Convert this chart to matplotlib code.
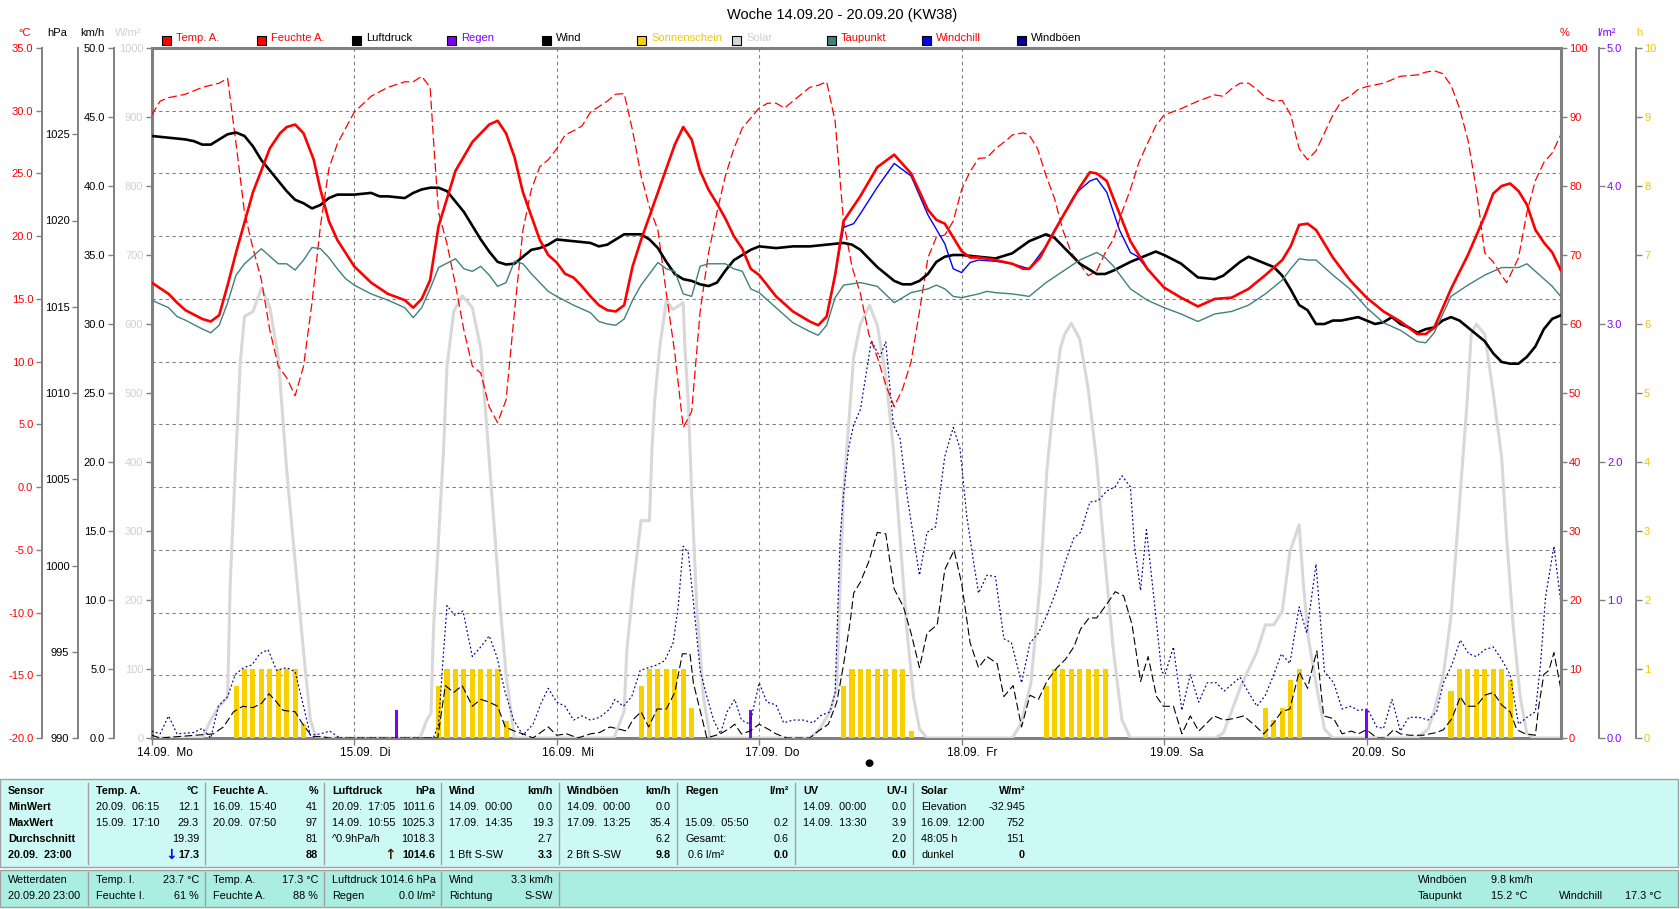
import matplotlib
matplotlib.use('Agg')
import matplotlib.pyplot as plt
from matplotlib.patches import Rectangle

plt.rcParams['font.family'] = ['Liberation Sans', 'DejaVu Sans']

# Values, hour 0 = 14.09. 00:00, last point 20.09. 23:00

temp_h = [0, 2, 3, 4, 6, 7, 8, 9, 10, 12, 14, 15.2, 16, 17, 18, 19.2, 20, 21, 22, 24, 26, 28, 30, 31, 32, 33,
          34, 36, 38, 40, 41, 42, 43, 44, 45, 46, 47, 48, 49, 50, 51, 52, 53, 54, 55, 56, 57, 58, 60, 62, 63,
          64, 65, 66, 67, 68, 69, 70, 71, 72, 74, 76, 78, 79, 80, 81, 82, 84, 86, 88, 90, 92, 93, 94, 96, 97,
          98, 100, 102, 103.3, 104, 105.3, 106, 108, 110, 111.2, 112, 113.2, 114, 116, 118, 120, 122, 124, 126,
          128, 130, 132, 134, 135, 136, 137, 138, 140, 142, 144, 146, 148, 150, 151, 152, 154, 156, 158, 159,
          160, 161, 162, 163, 164, 165, 166, 167]
temp_v = [16.3, 15.4, 14.7, 14.1, 13.4, 13.2, 13.7, 16.1, 18.7, 23.5, 27.0, 28.2, 28.7, 28.9, 28.2, 26.1, 23.7,
          21.2, 19.7, 17.6, 16.3, 15.4, 14.9, 14.3, 15.0, 16.5, 20.8, 25.2, 27.5, 28.9, 29.2, 28.2, 26.3, 23.5,
          21.6, 19.7, 18.5, 17.9, 17.0, 16.7, 16.0, 15.2, 14.5, 14.1, 14.0, 14.5, 17.6, 19.7, 23.5, 27.3, 28.7,
          27.7, 25.2, 23.7, 22.6, 21.4, 20.0, 19.0, 17.4, 16.9, 15.2, 14.0, 13.2, 12.9, 13.6, 16.9, 21.2, 23.2,
          25.5, 26.5, 25.0, 22.1, 21.3, 21.0, 18.8, 18.3, 18.3, 18.1, 17.8, 17.4, 17.4, 18.3, 19.2, 21.6, 23.9,
          25.1, 25.0, 24.4, 23.0, 19.6, 17.4, 15.9, 15.1, 14.4, 15.0, 15.1, 15.8, 16.9, 18.1, 19.2, 20.9, 21.0,
          20.5, 18.3, 16.5, 15.1, 14.0, 13.2, 12.2, 12.2, 12.7, 15.8, 18.5, 21.6, 23.4, 24.0, 24.2, 23.6, 22.5,
          20.5, 19.5, 18.7, 17.3]

chill_h = [80, 81, 82, 83.2, 84, 86, 88, 90, 92, 94, 95, 96, 97, 98, 100, 102, 104, 106, 107, 108, 109.3, 110,
           111.2, 112, 113.2, 114.7, 116, 116.8, 118]
chill_v = [13.6, 16.9, 20.7, 21.0, 21.8, 23.9, 25.8, 24.8, 21.7, 19.4, 17.4, 17.1, 17.9, 18.1, 18.0, 17.8, 17.4,
           19.2, 20.5, 21.6, 23.2, 23.7, 24.4, 24.6, 23.5, 20.5, 18.7, 18.4, 17.4]

dew_h = [0, 2, 3, 4, 6, 7, 8, 9, 10, 11, 12, 13, 14, 15, 16, 17, 18, 19, 20, 21, 22, 23, 24, 26, 28, 30, 31, 32,
         33, 34, 36, 37, 38, 39, 40, 41, 42, 43, 44, 45, 46, 47, 48, 50, 52, 53, 54, 55, 56, 57, 58, 60, 61, 62,
         63, 64, 65, 66, 68, 69, 70, 71, 72, 74, 76, 78, 79, 80, 81, 82, 84, 86, 88, 90, 92, 93, 94, 95, 96, 98,
         99, 100, 102, 104, 106, 108, 110, 112, 113, 114, 116, 118, 120, 122, 124, 126, 128, 130, 132, 134, 135,
         136, 137, 138, 140, 142, 144, 146, 148, 150, 151, 152, 154, 156, 158, 160, 162, 163, 164, 166, 167]
dew_v = [14.9, 14.3, 13.6, 13.3, 12.6, 12.3, 12.9, 14.7, 16.9, 17.8, 18.4, 19.0, 18.4, 17.8, 17.8, 17.3, 18.1,
         19.1, 19.0, 18.3, 17.4, 16.6, 16.1, 15.4, 14.9, 14.3, 13.5, 14.3, 15.8, 17.5, 18.2, 17.4, 17.2, 17.6,
         16.9, 16.0, 16.3, 18.0, 17.8, 17.0, 16.3, 15.6, 15.2, 14.5, 13.9, 13.2, 13.0, 12.9, 13.4, 14.9, 16.1,
         17.9, 17.4, 17.2, 15.4, 15.2, 17.6, 17.8, 17.8, 17.4, 17.2, 15.8, 15.5, 14.3, 13.1, 12.4, 12.1, 12.9,
         15.1, 16.1, 16.3, 16.0, 14.7, 15.5, 15.8, 16.1, 15.8, 15.2, 15.1, 15.4, 15.6, 15.5, 15.4, 15.2, 16.3,
         17.2, 18.1, 18.7, 18.3, 17.6, 15.8, 14.9, 14.3, 13.8, 13.2, 13.8, 14.0, 14.5, 15.4, 16.5, 17.4, 18.2,
         18.1, 18.1, 16.9, 15.8, 14.3, 13.1, 12.5, 11.6, 11.5, 12.3, 15.2, 16.1, 16.9, 17.5, 17.5, 17.8, 17.2,
         16.0, 15.2]

hum_h = [0, 1, 2, 4, 6, 8, 9, 10, 11, 12, 13, 14, 15, 16, 17, 18, 19, 20, 21, 22, 24, 26, 28, 30, 31, 32, 33,
         33.5, 34, 35, 36, 37, 38, 39, 40, 41, 42, 43, 44, 45, 46, 47, 48, 49, 50, 51, 52, 54, 55, 56, 57, 58,
         59, 60, 61, 62, 63, 64, 65, 66, 67, 68, 69, 70, 72, 73, 74, 75, 76, 78, 79, 80, 81, 82, 83, 84, 85, 86,
         87, 88, 89, 90, 91, 92, 93, 94, 95, 96, 97, 98, 99, 100, 101.4, 102, 103.3, 104, 105, 106, 107, 108,
         109, 110, 111, 112, 113, 114, 115, 116, 117, 118, 119, 120, 122, 124, 126, 127, 128, 129, 130, 131,
         132, 133, 134, 135, 136, 137, 138, 139, 140, 141, 142, 143, 144, 146, 148, 150, 151, 152, 153, 154,
         155, 156, 157, 158, 159, 160, 160.6, 162, 163, 164, 165, 166, 167]
hum_v = [90.3, 92.3, 92.8, 93.3, 94.3, 94.9, 95.6, 86.1, 76.2, 71.0, 66.4, 59.1, 53.9, 52.2, 49.6, 53.9, 63.1,
         74.2, 82.5, 86.1, 90.7, 93.0, 94.3, 95.1, 95.1, 95.9, 94.3, 84.8, 76.2, 71.6, 65.7, 59.1, 53.9, 52.9,
         48.0, 45.7, 49.0, 61.8, 73.6, 79.5, 82.8, 83.8, 85.4, 87.4, 88.0, 88.7, 90.7, 92.3, 93.3, 93.4, 88.0,
         81.5, 76.9, 73.6, 64.4, 55.8, 45.0, 47.3, 61.8, 70.3, 76.2, 81.5, 85.4, 88.4, 91.3, 92.0, 92.0, 91.3,
         92.3, 94.3, 94.6, 95.1, 89.4, 74.9, 68.3, 64.4, 58.5, 55.2, 51.2, 48.0, 50.6, 54.5, 61.8, 69.6, 72.6,
         72.9, 74.9, 79.5, 82.1, 84.0, 84.1, 85.4, 86.7, 87.4, 87.7, 87.4, 85.4, 81.5, 78.2, 73.6, 70.3, 68.7,
         67.0, 67.7, 70.3, 72.3, 76.2, 79.5, 83.4, 86.1, 88.7, 90.3, 91.2, 92.3, 93.2, 93.0, 94.1, 94.9, 94.9,
         94.0, 92.8, 92.3, 92.4, 90.3, 85.4, 83.8, 85.1, 87.7, 90.3, 92.3, 93.0, 94.0, 94.4, 94.9, 95.9, 96.1,
         96.5, 96.7, 96.3, 94.6, 91.3, 86.7, 79.5, 70.3, 69.0, 67.0, 66.0, 69.6, 76.2, 80.8, 83.4, 84.8, 87.4]

press_h = [0, 2, 4, 5, 6, 7, 8, 9, 10, 11, 12, 13, 14, 15, 16, 17, 18, 19, 20, 21, 22, 24, 26, 27, 28, 30, 31,
           32, 33, 34, 35, 36, 37, 38, 39, 40, 41, 42, 43, 44, 45, 46, 47, 48, 50, 52, 53, 54, 55, 56, 58, 59,
           60, 61, 62, 63, 64, 65, 66, 67, 68, 69, 70, 71, 72, 74, 76, 78, 80, 82, 83, 84, 86, 88, 89, 90, 91,
           92, 93, 94, 95, 96, 98, 100, 102, 104, 106, 107, 108, 110, 112, 113, 114, 116, 118, 119, 120, 122,
           124, 126, 127, 128, 129, 130, 131, 132, 133, 134, 135, 136, 137, 138, 139, 140, 141, 142, 143, 144,
           145, 146, 147, 148, 149, 150, 151, 152, 153, 154, 155, 156, 157, 158, 159, 160, 161, 162, 163, 164,
           165, 166, 167]
press_v = [1024.9, 1024.8, 1024.7, 1024.6, 1024.4, 1024.4, 1024.7, 1025.0, 1025.1, 1024.9, 1024.3, 1023.5,
           1022.9, 1022.3, 1021.7, 1021.2, 1021.0, 1020.7, 1020.9, 1021.3, 1021.5, 1021.5, 1021.6, 1021.4,
           1021.4, 1021.3, 1021.6, 1021.8, 1021.9, 1021.9, 1021.7, 1021.1, 1020.5, 1019.7, 1018.9, 1018.2,
           1017.6, 1017.45, 1017.5, 1017.9, 1018.3, 1018.4, 1018.6, 1018.9, 1018.8, 1018.7, 1018.5, 1018.6,
           1018.9, 1019.2, 1019.2, 1018.9, 1018.4, 1017.6, 1016.9, 1016.6, 1016.5, 1016.3, 1016.2, 1016.4,
           1017.1, 1017.7, 1018.0, 1018.3, 1018.5, 1018.4, 1018.5, 1018.5, 1018.6, 1018.7, 1018.6, 1018.3,
           1017.3, 1016.5, 1016.3, 1016.3, 1016.5, 1016.9, 1017.6, 1017.9, 1018.0, 1018.0, 1017.9, 1017.8,
           1018.1, 1018.8, 1019.2, 1019.0, 1018.5, 1017.5, 1016.9, 1016.9, 1017.1, 1017.6, 1018.0, 1018.2,
           1018.0, 1017.5, 1016.7, 1016.6, 1016.8, 1017.2, 1017.6, 1017.9, 1017.7, 1017.5, 1017.3, 1016.8,
           1016.0, 1015.1, 1014.8, 1014.0, 1014.0, 1014.2, 1014.2, 1014.3, 1014.4, 1014.2, 1014.0, 1014.1,
           1014.4, 1014.0, 1013.8, 1013.5, 1013.7, 1013.8, 1014.2, 1014.4, 1014.2, 1013.8, 1013.4, 1013.0,
           1012.3, 1011.8, 1011.7, 1011.7, 1012.1, 1012.7, 1013.7, 1014.3, 1014.5]

solar_h = [0, 6, 7, 8, 9, 9.3, 9.9, 10.5, 11, 12, 13, 14, 15, 16, 17, 18, 18.8, 19.5,
           31.8, 32.6, 33.1, 33.4, 34, 34.6, 35, 35.8, 36.8, 38, 39, 39.7, 40.5, 41.3, 42, 43,
           54.8, 56, 56.3, 57.1, 58, 59, 59.3, 59.6, 60.2, 61, 61.8, 63, 63.2, 63.6, 64, 64.6, 65.4, 66.2,
           78, 79.2, 80.4, 81.2, 81.6, 82, 82.6, 83.2, 84, 85.1, 86, 87, 87.9, 88.7, 89.5, 90.3, 91, 91.9,
           102, 103, 104.2, 105.3, 106.1, 106.9, 107.7, 108.2, 109, 110, 111, 112, 113, 114, 115, 116,
           126, 127, 128, 129, 130, 131, 132, 133, 134, 134.9, 136, 136.5, 137.1, 138, 139, 140,
           150, 151.3, 152, 153.1, 154, 154.7, 155.3, 155.9, 156.4, 157, 158, 159, 160, 160.6, 161.4, 162.2,
           163, 163.8, 167]
solar_v = [0, 0, 26, 46, 59, 223, 388, 545, 611, 618, 652, 624, 552, 388, 256, 125, 26, 0,
           0, 26, 36, 158, 289, 420, 539, 618, 641, 624, 565, 453, 322, 191, 92, 0,
           0, 39, 125, 223, 315, 315, 420, 486, 565, 634, 621, 631, 565, 486, 355, 191, 59, 0,
           0, 13, 39, 72, 223, 355, 453, 552, 600, 627, 598, 526, 420, 289, 158, 59, 13, 0,
           0, 20, 79, 223, 388, 486, 565, 585, 601, 578, 506, 401, 256, 125, 26, 0,
           0, 7, 39, 72, 99, 125, 164, 164, 184, 270, 309, 223, 144, 79, 13, 0,
           0, 13, 39, 92, 177, 289, 388, 486, 585, 600, 585, 500, 407, 289, 158, 59,
           6, 0, 0]

sun_h = [10, 11, 12, 13, 14, 15, 16, 17, 18,
         34, 35, 36, 37, 38, 39, 40, 41, 42,
         58, 59, 60, 61, 62, 63, 64,
         82, 83, 84, 85, 86, 87, 88, 89, 90,
         106, 107, 108, 109, 110, 111, 112, 113,
         132, 133, 134, 135, 136,
         154, 155, 156, 157, 158, 159, 160, 161]
sun_v = [0.75, 1, 1, 1, 1, 1, 1, 1, 0.2,
         0.75, 1, 1, 1, 1, 1, 1, 1, 0.25,
         0.75, 1, 1, 1, 1, 1, 0.43,
         0.75, 1, 1, 1, 1, 1, 1, 1, 0.1,
         0.75, 1, 1, 1, 1, 1, 1, 1,
         0.43, 0.26, 0.43, 0.84, 1,
         0.68, 1, 1, 1, 1, 1, 1, 0.84]

rain_h = [29, 71, 144]
rain_v = [0.2, 0.2, 0.2]

wind_h = [0, 1, 7.3, 8.5, 9.7, 10.8, 12, 13, 13.9, 14.6, 15.6, 17, 17.8, 19, 20.2, 21, 33.9, 34.8, 35.8, 36.8,
          38, 39, 40, 41, 41.9, 43, 44, 45.2, 47, 48, 49.2, 50.5, 52, 53.1, 54.3, 55, 56.3, 57, 58, 58.9, 59.9,
          61, 62, 62.9, 63.8, 64.2, 65, 65.8, 67.4, 68.5, 69.1, 69.9, 70.9, 72, 72.9, 74, 75.3, 78, 79, 80.2,
          81.2, 82, 82.8, 83.2, 84, 85, 86, 87, 88, 89.1, 90, 91, 91.9, 93.1, 94, 95.1, 96, 97, 98, 99, 100.2,
          101, 102.1, 103.1, 104.1, 105.1, 106.1, 107.3, 108.3, 109.3, 110.1, 111.1, 112, 113.2, 114.2, 115.2,
          116.2, 117.2, 118.1, 119.1, 119.9, 121.1, 122.1, 123.1, 124.1, 125.9, 127.1, 128.2, 129.4, 130.6,
          131.8, 133, 133.9, 134.9, 136, 137, 137.5, 138.1, 138.9, 140.1, 141.1, 142.2, 143, 144, 145.2, 146.2,
          147.2, 148, 149.1, 150.7, 152.3, 153.1, 154.1, 155.1, 155.8, 157, 158, 159, 160, 161, 161.8, 162.8,
          164, 164.4, 165, 165.6, 166.2, 167]
wind_v = [0.2, 0, 0.3, 0.8, 1.9, 2.3, 2.2, 2.5, 3.2, 2.75, 2.0, 1.9, 1.1, 0.1, 0.1, 0, 0, 3.8, 3.3, 3.8,
          2.3, 2.8, 2.6, 2.3, 0.8, 0.5, 0.3, 0, 0.8, 0.2, 0.3, 0, 0.3, 0.4, 0.8, 0.7, 0.5, 1.3, 1.9, 0.8, 2.1,
          2.1, 3.3, 6.1, 6.1, 4.0, 2.0, 0, 0.3, 0.7, 1.0, 0.3, 0.5, 1.0, 0.7, 0.3, 0, 0, 0.5, 1.0,
          2.6, 5.3, 8.5, 10.5, 11.3, 12.8, 14.9, 14.8, 10.8, 9.5, 7.6, 5.1, 7.6, 8.2, 12.2, 13.6, 11.2, 6.9, 5.1,
          5.9, 5.4, 3.0, 3.8, 0.8, 3.1, 2.8, 4.1, 5.1, 5.7, 6.6, 7.9, 8.7, 8.7, 9.7, 10.6, 10.3,
          8.2, 4.1, 5.9, 3.0, 2.3, 2.3, 0.3, 1.6, 0.5, 1.6, 1.3, 1.4, 1.6, 1.0,
          0.3, 1.1, 1.9, 2.1, 4.8, 3.6, 4.9, 6.3, 1.6, 1.4, 0.3, 0.5, 0.3, 0.6, 0, 0,
          0.6, 0.3, 0.2, 0.2, 0.4, 0.6, 1.4, 3.0, 2.3, 2.3, 3.1, 3.3, 2.4, 1.9, 0.6, 0.3,
          0.2, 2.3, 4.6, 4.9, 6.2, 3.6]

gust_h = [0, 1, 2, 3, 5, 6, 7, 7.9, 9, 9.9, 10.9, 11.9, 12.8, 13.8, 14.8, 16, 17, 18, 18.8, 20, 21.1, 22.3,
          33.4, 34, 34.6, 35, 35.9, 36.9, 38, 39, 40, 40.9, 41.9, 42.9, 44, 45.2, 46.2, 47, 48, 49, 50, 51, 52,
          53.1, 54.3, 54.9, 55.9, 56.9, 57.9, 58.9, 59.9, 60.8, 61.8, 62.4, 63, 63.6, 64.2, 65, 65.8, 66.6, 67.4,
          68.2, 69.1, 69.9, 70.9, 72, 72.9, 74, 74.9, 76, 77.2, 78.4, 79.2, 80.4, 81, 81.6, 82, 82.6, 83.2, 84,
          84.7, 85.3, 86.3, 87, 87.9, 88.7, 89.5, 90.3, 91, 91.9, 92.9, 94, 95, 95.8, 96.6, 97.4, 98, 99, 100,
          101, 101.9, 103.1, 104.1, 105.1, 106.1, 107.3, 108.3, 109.3, 110.1, 111.2, 112.2, 113.2, 114.2, 115,
          116, 116.5, 117.2, 117.9, 118.9, 119.7, 120.1, 121.1, 122.1, 123.1, 124.1, 125.1, 126.2, 127.1, 129,
          130, 131, 132, 133, 133.9, 134.9, 136, 136.9, 138, 139, 140.1, 141.1, 142.1, 143, 144.1, 145.2, 146,
          147, 148, 149, 150.2, 151.3, 152.3, 153.1, 154.1, 155.1, 156.1, 157, 158, 159, 160, 161, 162, 163, 164,
          164.6, 165.2, 166.2, 167]
gust_v = [0.5, 0.3, 1.6, 0.3, 0.4, 0.7, 0, 2.3, 3.0, 4.6, 5.1, 5.3, 6.1, 6.4, 4.9, 5.1, 4.8, 2.3, 0.2, 0.3, 0.5, 0,
          0, 1.0, 6.3, 9.6, 8.9, 9.2, 5.9, 6.6, 7.4, 5.9, 3.3, 1.3, 0.2, 1.0, 2.6, 3.6, 2.6, 2.3, 1.3, 1.6, 1.3,
          1.5, 2.1, 2.8, 2.3, 3.0, 4.9, 5.1, 5.3, 5.6, 6.9, 9.5, 13.9, 13.4, 9.9, 4.9, 3.0, 1.3, 0.3,
          1.9, 2.8, 1.3, 1.0, 4.0, 2.6, 2.4, 1.1, 1.3, 1.3, 1.1, 1.6, 1.9, 3.3, 14.5, 17.7, 21.0, 22.7, 23.8,
          26.5, 28.8, 27.6, 28.7, 22.7, 21.7, 17.7, 14.5, 11.8, 14.9, 15.3, 20.4, 22.5, 21.0, 16.1, 12.8, 10.5,
          11.8, 11.7, 7.2, 6.9, 4.0, 6.9, 7.6, 8.9, 10.8, 12.8, 14.5, 14.9, 17.1, 17.2, 17.9, 18.2, 19.0,
          18.2, 13.8, 10.7, 15.1, 9.5, 4.8, 4.6, 6.6, 2.0, 4.6, 2.6, 4.0, 4.0, 3.4, 4.4,
          3.3, 2.3, 3.1, 4.6, 6.1, 5.4, 9.5, 7.6, 12.6, 4.8, 4.0, 2.1, 2.3, 2.0, 2.1, 0.8, 0.7,
          2.8, 0.5, 1.5, 1.5, 1.3, 1.9, 4.0, 5.3, 7.1, 6.1, 5.9, 6.4, 6.6, 5.7, 4.6, 1.0, 1.5, 1.9,
          5.3, 10.2, 13.9, 9.9]

day_labels = ['14.09.  Mo', '15.09.  Di', '16.09.  Mi', '17.09.  Do', '18.09.  Fr', '19.09.  Sa', '20.09.  So']
day_starts = [0, 24, 48, 72, 96, 120, 144]

legend_names = ['Temp. A.', 'Feuchte A.', 'Luftdruck', 'Regen', 'Wind', 'Sonnenschein', 'Solar',
                'Taupunkt', 'Windchill', 'Windböen']

stats_cols = [
    [('Temp. A.', '°C'), ('20.09.  06:15', '12.1'), ('15.09.  17:10', '29.3'), ('', '19.39'), ('', '17.3')],
    [('Feuchte A.', '%'), ('16.09.  15:40', '41'), ('20.09.  07:50', '97'), ('', '81'), ('', '88')],
    [('Luftdruck', 'hPa'), ('20.09.  17:05', '1011.6'), ('14.09.  10:55', '1025.3'), ('^0.9hPa/h', '1018.3'),
     ('', '1014.6')],
    [('Wind', 'km/h'), ('14.09.  00:00', '0.0'), ('17.09.  14:35', '19.3'), ('', '2.7'), ('1 Bft S-SW', '3.3')],
    [('Windböen', 'km/h'), ('14.09.  00:00', '0.0'), ('17.09.  13:25', '35.4'), ('', '6.2'),
     ('2 Bft S-SW', '9.8')],
    [('Regen', 'l/m²'), ('', ''), ('15.09.  05:50', '0.2'), ('Gesamt:', '0.6'), (' 0.6 l/m²', '0.0')],
    [('UV', 'UV-I'), ('14.09.  00:00', '0.0'), ('14.09.  13:30', '3.9'), ('', '2.0'), ('', '0.0')],
    [('Solar', 'W/m²'), ('Elevation', '-32.945'), ('16.09.  12:00', '752'), ('48:05 h', '151'), ('dunkel', '0')],
]
row_names = ['Sensor', 'MinWert', 'MaxWert', 'Durchschnitt', '20.09.  23:00']

now_cols = [
    [('Temp. I.', '23.7 °C'), ('Feuchte I.', '61 %')],
    [('Temp. A.', '17.3 °C'), ('Feuchte A.', '88 %')],
    [('Luftdruck 1014.6 hPa', ''), ('Regen', '0.0 l/m²')],
    [('Wind', '3.3 km/h'), ('Richtung', 'S-SW')],
]

# colours
RED = '#ff0000'
GREY = '#808080'
SOLAR = '#d8d8d8'
SUN = '#f8d000'
SUNTXT = '#f0c800'
RAIN = '#8000ff'
TEAL = '#408080'
BLUE = '#0000ff'
NAVY = '#000090'

W, H = 1680, 909
fig = plt.figure(figsize=(W / 100, H / 100), dpi=100)
PL, PR, PT, PB = 151.7, 1560.7, 48, 738
PX = 0.72  # points per pixel

ax = fig.add_axes([PL / W, 1 - PB / H, (PR - PL) / W, (PB - PT) / H])
ax.set_xlim(0, 167)
ax.set_ylim(-20, 35)


def style_axis(a, side, out_px, ticks, labels, color, spine_w=1.4):
    sp = a.spines[side]
    sp.set_visible(True)
    sp.set_position(('outward', out_px * PX))
    sp.set_color(GREY)
    sp.set_linewidth(spine_w)
    if side == 'left':
        a.yaxis.set_ticks_position('left')
    else:
        a.yaxis.set_ticks_position('right')
    a.set_yticks(ticks)
    a.set_yticklabels(labels)
    a.tick_params(axis='y', direction='out', length=4, width=1, color=GREY, labelcolor=color,
                  labelsize=8, pad=2)


def twin():
    a = ax.twinx()
    a.set_xlim(0, 167)
    for s in a.spines.values():
        s.set_visible(False)
    a.set_yticks([])
    return a


# base axes: grid and the °C scale
for s in ['top', 'bottom']:
    ax.spines[s].set_color(GREY)
    ax.spines[s].set_linewidth(2.2)
ax.spines['right'].set_visible(False)
style_axis(ax, 'left', 110, range(-20, 36, 5), [f'{v:.1f}' for v in range(-20, 36, 5)], RED)
ax.set_xticks(day_starts)
ax.set_xticklabels([])
ax.tick_params(axis='x', direction='out', length=5, width=1, color=GREY)
ax.grid(True, color=GREY, ls=(0, (3, 3)), lw=0.8)

a_sol = twin()
a_sol.set_ylim(0, 1000)
style_axis(a_sol, 'left', 0, range(0, 1001, 100), [str(v) for v in range(0, 1001, 100)], '#d0d0d0', 2.2)
a_sol.plot(solar_h, solar_v, color=SOLAR, lw=2.2)

a_sun = twin()
a_sun.set_ylim(0, 10)
style_axis(a_sun, 'right', 75, range(0, 11), [str(v) for v in range(0, 11)], SUNTXT)
a_sun.bar(sun_h, sun_v, width=0.6, color=SUN)

a_rain = twin()
a_rain.set_ylim(0, 5)
style_axis(a_rain, 'right', 38, range(0, 6), [f'{v:.1f}' for v in range(0, 6)], RAIN)
a_rain.bar(rain_h, rain_v, width=0.35, color=RAIN)

a_wind = twin()
a_wind.set_ylim(0, 50)
style_axis(a_wind, 'left', 38, range(0, 51, 5), [f'{v:.1f}' for v in range(0, 51, 5)], 'black')
a_wind.plot(wind_h, wind_v, color='black', lw=0.8, dashes=(7, 3))
a_wind.plot(gust_h, gust_v, color=NAVY, lw=0.85, dashes=(1.6, 2.0))

a_hum = twin()
a_hum.set_ylim(0, 100)
style_axis(a_hum, 'right', 0, range(0, 101, 10), [str(v) for v in range(0, 101, 10)], RED, 2.2)
a_hum.plot(hum_h, hum_v, color=RED, lw=0.9, dashes=(7, 3))

a_p = twin()
a_p.set_ylim(990, 1030)
style_axis(a_p, 'left', 74, range(990, 1026, 5), [str(v) for v in range(990, 1026, 5)], 'black')
a_p.plot(press_h, press_v, color='black', lw=1.9)

a_t = twin()
a_t.set_ylim(-20, 35)
a_t.plot(dew_h, dew_v, color=TEAL, lw=1.0)
a_t.plot(chill_h, chill_v, color=BLUE, lw=1.0)
a_t.plot(temp_h, temp_v, color=RED, lw=1.9)

# day labels and moon phase under the plot
for d, lab in zip(day_starts, day_labels):
    ax.text(d - 1.7, -0.022, lab, transform=ax.get_xaxis_transform(), ha='left', va='center', fontsize=8.5)
ax.text(85, -0.036, '●', transform=ax.get_xaxis_transform(), ha='center', va='center', fontsize=7.5,
        family='DejaVu Sans')


def ftext(x, y, s, **kw):
    kw.setdefault('fontsize', 7.8)
    kw.setdefault('va', 'center')
    fig.text(x / W, 1 - y / H, s, **kw)


# title, units, legend
ftext(842, 15, 'Woche 14.09.20 - 20.09.20 (KW38)', ha='center', fontsize=10.5)
for x, s, c in [(25, '°C', RED), (57, 'hPa', 'black'), (92, 'km/h', 'black'), (128, 'W/m²', '#d0d0d0'),
                (1565, '%', RED), (1607, 'l/m²', RAIN), (1639, 'h', SUNTXT)]:
    ftext(x, 33, s, ha='center', color=c, fontsize=8)

box_colors = [RED, RED, 'black', RAIN, 'black', SUN, SOLAR, TEAL, BLUE, NAVY]
text_colors = [RED, RED, 'black', RAIN, 'black', SUNTXT, '#d0d0d0', RED, RED, 'black']
for i, name in enumerate(legend_names):
    x0 = 162 + 95 * i
    fig.patches.append(Rectangle((x0 / W, 1 - 45 / H), 9 / W, 9 / H, transform=fig.transFigure,
                                 facecolor=box_colors[i], edgecolor='black', lw=0.8))
    ftext(x0 + 14, 38, name, ha='left', color=text_colors[i], fontsize=8)

# statistics panel
P1C, P2C, LINE = '#ccf9f4', '#aaeee2', '#a0a0a0'
fig.patches.append(Rectangle((0, 1 - 867 / H), 1678 / W, 88 / H, transform=fig.transFigure,
                             facecolor=P1C, edgecolor=LINE, lw=1))
fig.patches.append(Rectangle((0, 1 - 907 / H), 1678 / W, 37 / H, transform=fig.transFigure,
                             facecolor=P2C, edgecolor=LINE, lw=1))
seps = [88, 205, 324, 441, 559, 677, 795, 913, 1031]
for x in seps[:-1]:
    fig.add_artist(plt.Line2D([x / W, x / W], [1 - 783 / H, 1 - 864 / H], color=LINE, lw=1))
for x in seps[:5]:
    fig.add_artist(plt.Line2D([x / W, x / W], [1 - 872 / H, 1 - 905 / H], color=LINE, lw=1))

rows_y = [791, 807, 823, 839, 855]
for y, s in zip(rows_y, row_names):
    ftext(8, y, s, ha='left', weight='bold')
for c, col in enumerate(stats_cols):
    xl, xr = seps[c] + 8, seps[c + 1] - 6
    for r, (left, right) in enumerate(col):
        bold = r in (0, 4)
        ftext(xl, rows_y[r], left, ha='left', weight='bold' if r == 0 else 'normal')
        ftext(xr, rows_y[r], right, ha='right', weight='bold' if bold else 'normal')
ftext(177, rows_y[4], '↓', ha='right', color=BLUE, weight='bold', fontsize=10, family='DejaVu Sans')
ftext(396, rows_y[4], '↑', ha='right', color='#402000', weight='bold', fontsize=10, family='DejaVu Sans')

ftext(8, 880, 'Wetterdaten', ha='left')
ftext(8, 896, '20.09.20 23:00', ha='left')
for c, col in enumerate(now_cols):
    xl, xr = seps[c] + 8, seps[c + 1] - 6
    for r, (left, right) in enumerate(col):
        ftext(xl, 880 + 16 * r, left, ha='left')
        ftext(xr, 880 + 16 * r, right, ha='right')
ftext(1418, 880, 'Windböen', ha='left')
ftext(1491, 880, '9.8 km/h', ha='left')
ftext(1418, 896, 'Taupunkt', ha='left')
ftext(1491, 896, '15.2 °C', ha='left')
ftext(1559, 896, 'Windchill', ha='left')
ftext(1625, 896, '17.3 °C', ha='left')

fig.savefig('out.png', dpi=100)
